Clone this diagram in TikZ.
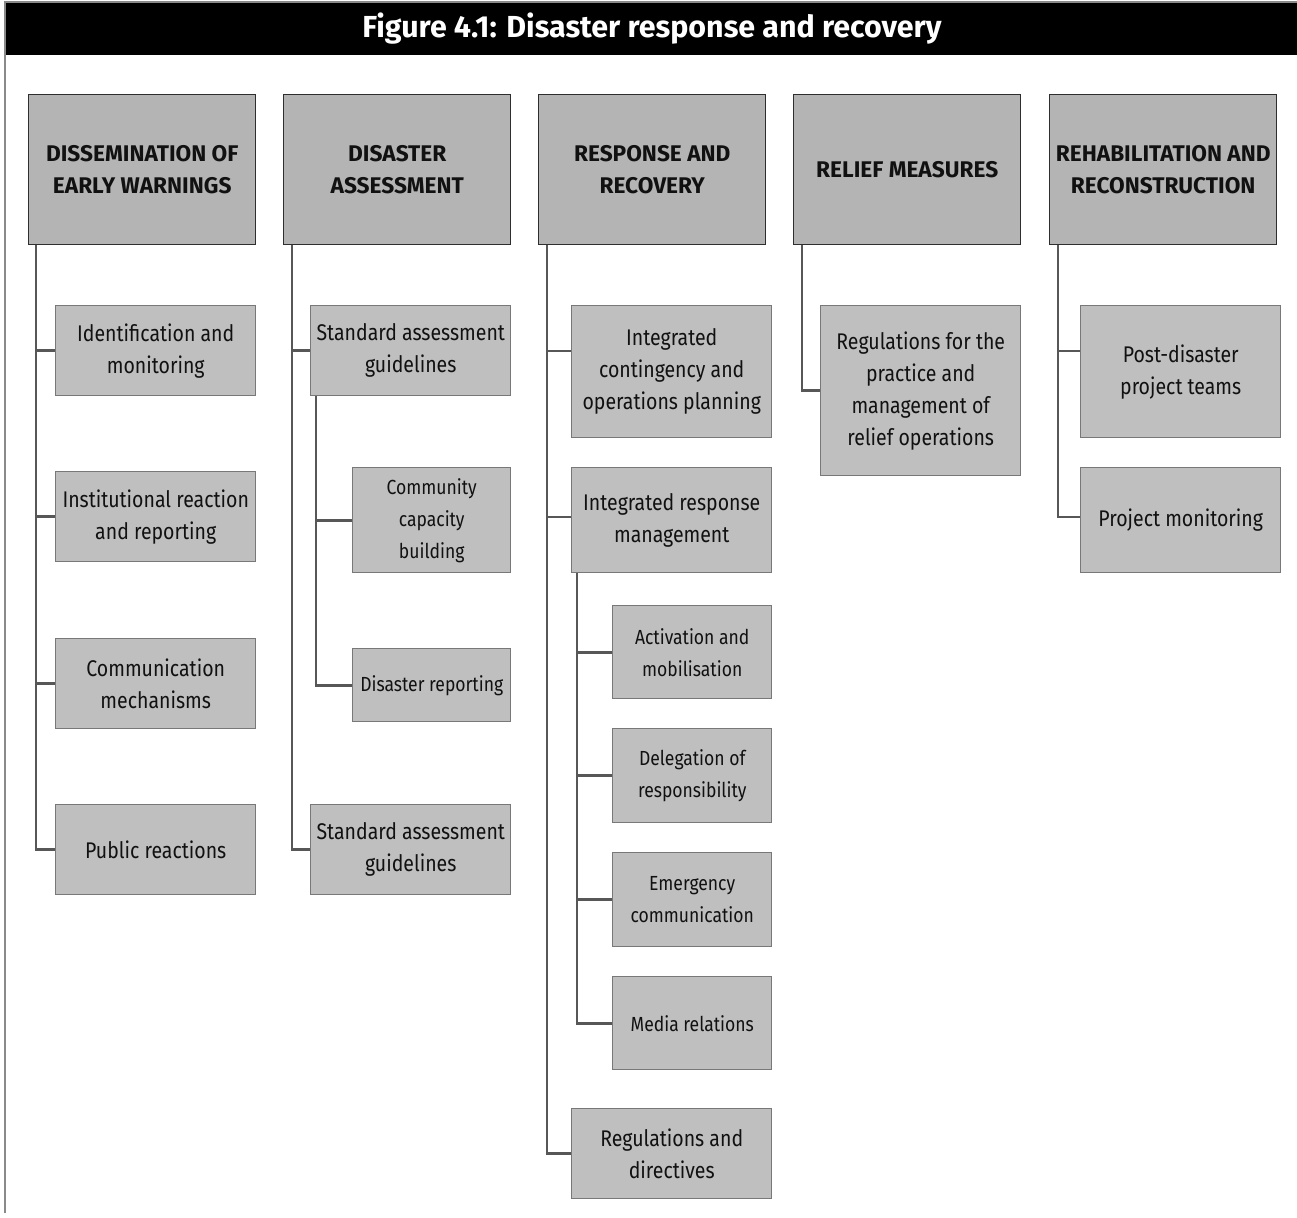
\documentclass[tikz,border=0pt]{standalone}
\usepackage{fontspec}
\setmainfont{Fira Sans}
\newfontfamily\condfont{Fira Sans}[FakeStretch=0.86]
\usetikzlibrary{calc}
\definecolor{topfill}{HTML}{B4B4B4}
\definecolor{subfill}{HTML}{BFBFBF}
\definecolor{topline}{HTML}{2E2E2E}
\definecolor{subline}{HTML}{787878}
\definecolor{conncol}{HTML}{575757}
\definecolor{framecol}{HTML}{8A8A8A}
\definecolor{txt}{HTML}{111111}
\tikzset{
  sz/.style 2 args={minimum width=#1*0.75pt, minimum height=#2*0.75pt},
  headbox/.style={draw=topline, fill=topfill, line width=1.1pt, anchor=north west,
    inner sep=0pt, align=center, text=txt, sz={227}{150},
    font=\bfseries\fontsize{17}{24}\selectfont},
  subbox/.style={draw=subline, fill=subfill, line width=1.1pt, anchor=north west,
    inner sep=0pt, align=center, text=txt,
    font=\condfont\fontsize{17}{24}\selectfont},
  smallbox/.style={subbox, font=\condfont\fontsize{15.3}{24}\selectfont},
  conn/.style={draw=conncol, line width=1.9pt, line join=miter},
}
\begin{document}
\begin{tikzpicture}[x=0.75pt, y=-0.75pt]
\useasboundingbox (0,0) rectangle (1297,1218);
% frame and title bar
\fill[black] (6,3) rectangle (1297,55);
\draw[framecol, line width=1pt] (5,1213) -- (5,2) -- (1297,2);
\node[text=white, font=\bfseries\fontsize{22.8}{24}\selectfont] (title) at (652,29) {Figure 4.1: Disaster response and recovery};

% top level boxes
\node[headbox] (h1) at (28,94) {DISSEMINATION OF\\EARLY WARNINGS};
\node[headbox] (h2) at (283,94) {DISASTER\\ASSESSMENT};
\node[headbox] (h3) at (538,94) {RESPONSE AND\\RECOVERY};
\node[headbox] (h4) at (793,94) {RELIEF MEASURES};
\node[headbox] (h5) at (1049,94) {REHABILITATION AND\\RECONSTRUCTION};

% column 1
\node[subbox, sz={200}{90}] (c11) at (55,305) {Identification and\\monitoring};
\node[subbox, sz={200}{90}] (c12) at (55,471) {Institutional reaction\\and reporting};
\node[subbox, sz={200}{90}] (c13) at (55,638) {Communication\\mechanisms};
\node[subbox, sz={200}{90}] (c14) at (55,804) {Public reactions};

% column 2
\node[subbox, sz={200}{90}] (c21) at (310,305) {Standard assessment\\guidelines};
\node[smallbox, sz={158}{105}] (c22) at (352,467) {Community\\capacity\\building};
\node[smallbox, sz={158}{73}] (c23) at (352,648) {Disaster reporting};
\node[subbox, sz={200}{90}] (c24) at (310,804) {Standard assessment\\guidelines};

% column 3
\node[subbox, sz={200}{132}] (c31) at (571,305) {Integrated\\contingency and\\operations planning};
\node[subbox, sz={200}{105}] (c32) at (571,467) {Integrated response\\management};
\node[smallbox, sz={159}{93}] (c33) at (612,605) {Activation and\\mobilisation};
\node[smallbox, sz={159}{94}] (c34) at (612,728) {Delegation of\\responsibility};
\node[smallbox, sz={159}{94}] (c35) at (612,852) {Emergency\\communication};
\node[smallbox, sz={159}{93}] (c36) at (612,976) {Media relations};
\node[subbox, sz={200}{90}] (c37) at (571,1108) {Regulations and\\directives};

% column 4
\node[subbox, sz={200}{170}] (c41) at (820,305) {Regulations for the\\practice and\\management of\\relief operations};

% column 5
\node[subbox, sz={200}{132}] (c51) at (1080,305) {Post-disaster\\project teams};
\node[subbox, sz={200}{105}] (c52) at (1080,467) {Project monitoring};

% trunk start points
\coordinate (t1) at ($(h1.south west)+(8,0)$);
\coordinate (t2) at ($(h2.south west)+(9,0)$);
\coordinate (t3) at ($(h3.south west)+(9,0)$);
\coordinate (t4) at ($(h4.south west)+(9,0)$);
\coordinate (t5) at ($(h5.south west)+(9,0)$);
\coordinate (s2) at ($(c21.south west)+(6,0)$);
\coordinate (s3) at ($(c32.south west)+(6,0)$);
\coordinate (p31) at ($(c31.north west)+(0,46)$);
\coordinate (p51) at ($(c51.north west)+(0,46)$);
\coordinate (p32) at ($(c32.north west)+(0,50)$);
\coordinate (p52) at ($(c52.north west)+(0,50)$);

% column 1 connectors
\draw[conn] (t1) |- (c14.west);
\foreach \n in {c11,c12,c13} \draw[conn] (t1 |- \n.west) -- (\n.west);
% column 2 connectors
\draw[conn] (t2) |- (c24.west);
\draw[conn] (t2 |- c21.west) -- (c21.west);
\draw[conn] (s2) |- (c23.west);
\draw[conn] (s2 |- c22.west) -- (c22.west);
% column 3 connectors
\draw[conn] (t3) |- (c37.west);
\draw[conn] (t3 |- p31) -- (p31);
\draw[conn] (t3 |- p32) -- (p32);
\draw[conn] (s3) |- (c36.west);
\foreach \n in {c33,c34,c35} \draw[conn] (s3 |- \n.west) -- (\n.west);
% column 4 connectors
\draw[conn] (t4) |- (c41.west);
% column 5 connectors
\draw[conn] (t5) |- (p52);
\draw[conn] (t5 |- p51) -- (p51);
\end{tikzpicture}
\end{document}
